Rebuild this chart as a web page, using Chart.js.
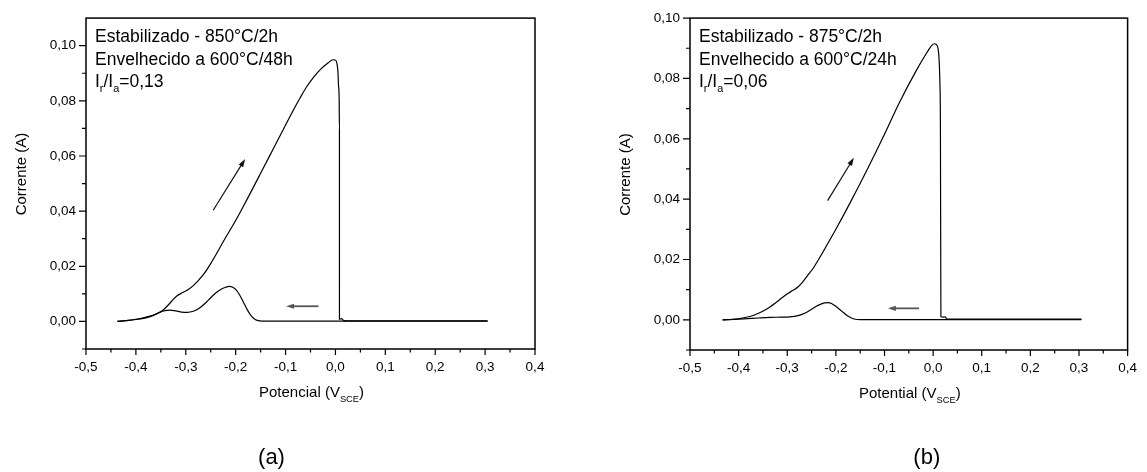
<!DOCTYPE html>
<html>
<head>
<meta charset="utf-8">
<script src="https://cdn.jsdelivr.net/npm/chart.js@4.4.1/dist/chart.umd.min.js"></script>
<style>
  html, body { margin: 0; padding: 0; background: #fff; }
  #quadro { position: relative; width: 1147px; height: 472px; }
  canvas { position: absolute; top: 0; }
  #grafA { left: 0; }
  #grafB { left: 560px; }
</style>
</head>
<body>
<div id="quadro">
  <canvas id="grafA" width="560" height="472"></canvas>
  <canvas id="grafB" width="587" height="472"></canvas>
</div>
<script>
// === EIXOS (comuns aos dois graficos) ===
const ticksPotencial = [-0.5, -0.4, -0.3, -0.2, -0.1, 0, 0.1, 0.2, 0.3, 0.4];
const ticksMenoresPotencial = [-0.45, -0.35, -0.25, -0.15, -0.05, 0.05, 0.15, 0.25, 0.35];
const ticksCorrente = [0, 0.02, 0.04, 0.06, 0.08, 0.10];
const ticksMenoresCorrente = [-0.01, 0.01, 0.03, 0.05, 0.07, 0.09];

// === (a) Estabilizado 850°C/2h, envelhecido 600°C/48h ===
// varredura de ida (anodica) [potencial V, corrente A]
const idaA = [
  [-0.437, 0.0000], [-0.42, 0.0003], [-0.40, 0.0008], [-0.385, 0.0013], [-0.372, 0.0019],
  [-0.36, 0.0027], [-0.348, 0.0038], [-0.338, 0.0054], [-0.328, 0.0074], [-0.318, 0.0092],
  [-0.307, 0.0104], [-0.295, 0.0116], [-0.285, 0.0130], [-0.275, 0.0148], [-0.263, 0.0174],
  [-0.251, 0.0207], [-0.238, 0.0247], [-0.225, 0.0289], [-0.2, 0.0366], [-0.178, 0.0440],
  [-0.15, 0.0537], [-0.124, 0.0628], [-0.104, 0.0698], [-0.085, 0.0764], [-0.071, 0.0810],
  [-0.058, 0.0850], [-0.044, 0.0885], [-0.03, 0.0914], [-0.015, 0.0937], [-0.005, 0.0949],
  [0.0, 0.0948], [0.003, 0.0935], [0.005, 0.0905], [0.006, 0.0862], [0.0075, 0.0800],
  [0.008, 0.0700], [0.008, 0.0008], [0.012, 0.0010], [0.016, 0.0004], [0.02, 0.0002],
  [0.305, 0.0002]
];
// varredura de volta (reativacao)
const voltaA = [
  [0.305, 0.0001], [-0.14, 0.0001], [-0.152, 0.0002], [-0.16, 0.0006], [-0.168, 0.0018],
  [-0.176, 0.0040], [-0.184, 0.0068], [-0.192, 0.0096], [-0.2, 0.0116], [-0.207, 0.0125],
  [-0.213, 0.0127], [-0.22, 0.0124], [-0.23, 0.0116], [-0.24, 0.0103], [-0.25, 0.0086],
  [-0.261, 0.0066], [-0.273, 0.0048], [-0.285, 0.0037], [-0.297, 0.0033], [-0.308, 0.0034],
  [-0.32, 0.0038], [-0.332, 0.0041], [-0.342, 0.0039], [-0.352, 0.0033], [-0.365, 0.0022],
  [-0.38, 0.0013], [-0.40, 0.0007], [-0.42, 0.0003], [-0.437, 0.0000]
];
// setas indicando o sentido da varredura [inicio, ponta]
const setaIdaA = [[-0.245, 0.0403], [-0.181, 0.0589]];
const setaVoltaA = [[-0.034, 0.0055], [-0.099, 0.0055]];

// === (b) Estabilizado 875°C/2h, envelhecido 600°C/24h ===
const idaB = [
  [-0.433, 0.0000], [-0.41, 0.0002], [-0.392, 0.0006], [-0.375, 0.0012], [-0.359, 0.0022],
  [-0.342, 0.0036], [-0.325, 0.0055], [-0.31, 0.0074], [-0.298, 0.0088], [-0.288, 0.0098],
  [-0.278, 0.0109], [-0.268, 0.0126], [-0.258, 0.0147], [-0.247, 0.0170], [-0.237, 0.0196],
  [-0.224, 0.0232], [-0.2, 0.0300], [-0.17, 0.0390], [-0.135, 0.0500], [-0.103, 0.0605],
  [-0.07, 0.0718], [-0.035, 0.0825], [-0.015, 0.0880], [-0.005, 0.0905], [0.002, 0.0915],
  [0.007, 0.0912], [0.010, 0.0900], [0.012, 0.0870], [0.014, 0.0780], [0.015, 0.0650],
  [0.016, 0.0010], [0.02, 0.0009], [0.024, 0.0010], [0.03, 0.0002], [0.305, 0.0002]
];
const voltaB = [
  [0.305, 0.0001], [-0.15, 0.0001], [-0.16, 0.0002], [-0.168, 0.0006], [-0.177, 0.0014],
  [-0.185, 0.0025], [-0.194, 0.0037], [-0.204, 0.0049], [-0.21, 0.0055], [-0.216, 0.0057],
  [-0.223, 0.0056], [-0.231, 0.0052], [-0.241, 0.0044], [-0.251, 0.0034], [-0.264, 0.0022],
  [-0.278, 0.0014], [-0.295, 0.0010], [-0.312, 0.0009], [-0.335, 0.0008], [-0.359, 0.0006],
  [-0.39, 0.0003], [-0.433, 0.0000]
];
const setaIdaB = [[-0.217, 0.0395], [-0.163, 0.0537]];
const setaVoltaB = [[-0.029, 0.0038], [-0.093, 0.0038]];

const FONTE = "'Liberation Sans', Arial, Helvetica, sans-serif";
Chart.defaults.font.family = FONTE;
Chart.defaults.color = '#000';

// escreve texto com subscritos: partes = [[texto, ehSub], ...]
function escreverPartes(ctx, partes, x, y, tam, centrado) {
  const tamSub = tam * 0.62;
  const larguras = partes.map(p => {
    ctx.font = `${p[1] ? tamSub : tam}px ${FONTE}`;
    return ctx.measureText(p[0]).width;
  });
  let cx = centrado ? x - larguras.reduce((a, b) => a + b, 0) / 2 : x;
  partes.forEach((p, i) => {
    ctx.font = `${p[1] ? tamSub : tam}px ${FONTE}`;
    ctx.fillText(p[0], cx, p[1] ? y + tam * 0.32 : y);
    cx += larguras[i];
  });
}

function desenharSeta(ctx, x0, y0, x1, y1, cor, espessura) {
  const ang = Math.atan2(y1 - y0, x1 - x0);
  const L = 8, W = 2.6;
  ctx.strokeStyle = cor;
  ctx.fillStyle = cor;
  ctx.lineWidth = espessura;
  ctx.beginPath();
  ctx.moveTo(x0, y0);
  ctx.lineTo(x1 - Math.cos(ang) * L * 0.8, y1 - Math.sin(ang) * L * 0.8);
  ctx.stroke();
  ctx.beginPath();
  ctx.moveTo(x1, y1);
  ctx.lineTo(x1 - Math.cos(ang) * L - Math.sin(ang) * W, y1 - Math.sin(ang) * L + Math.cos(ang) * W);
  ctx.lineTo(x1 - Math.cos(ang) * L + Math.sin(ang) * W, y1 - Math.sin(ang) * L - Math.cos(ang) * W);
  ctx.closePath();
  ctx.fill();
}

// moldura, ticks maiores/menores, titulos e anotacoes no estilo Origin
const estiloOrigin = {
  id: 'estiloOrigin',
  afterDraw(chart, args, op) {
    const { ctx, chartArea: a, scales: { x, y } } = chart;
    ctx.save();
    ctx.strokeStyle = '#000';
    ctx.lineWidth = 1.5;
    ctx.strokeRect(a.left, a.top, a.right - a.left, a.bottom - a.top);

    ctx.lineWidth = 1.2;
    ctx.beginPath();
    ticksPotencial.forEach(v => { const p = x.getPixelForValue(v); ctx.moveTo(p, a.bottom); ctx.lineTo(p, a.bottom + 6); });
    ticksMenoresPotencial.forEach(v => { const p = x.getPixelForValue(v); ctx.moveTo(p, a.bottom); ctx.lineTo(p, a.bottom + 3.5); });
    ticksCorrente.forEach(v => { const p = y.getPixelForValue(v); ctx.moveTo(a.left, p); ctx.lineTo(a.left - 7, p); });
    ticksMenoresCorrente.forEach(v => { const p = y.getPixelForValue(v); ctx.moveTo(a.left, p); ctx.lineTo(a.left - 4, p); });
    ctx.stroke();

    ctx.fillStyle = '#000';
    ctx.textAlign = 'left';
    ctx.textBaseline = 'alphabetic';

    // titulo do eixo x
    const meioX = (a.left + a.right) / 2;
    escreverPartes(ctx, [[op.tituloX + ' (V', false], ['SCE', true], [')', false]], meioX + 1, a.bottom + 48, 15, true);

    // titulo do eixo y
    ctx.save();
    ctx.translate(a.left - 65.5, (a.top + a.bottom) / 2 - 9.5);
    ctx.rotate(-Math.PI / 2);
    ctx.textAlign = 'center';
    ctx.font = `15px ${FONTE}`;
    ctx.fillText('Corrente (A)', 0, 5);
    ctx.restore();

    // anotacoes do ensaio
    const ax = a.left + 9, ay = a.top + 24;
    ctx.fillStyle = '#000';
    escreverPartes(ctx, [[op.linha1, false]], ax, ay, 17.5, false);
    escreverPartes(ctx, [[op.linha2, false]], ax, ay + 22.5, 17.5, false);
    escreverPartes(ctx, [['I', false], ['r', true], ['/I', false], ['a', true], ['=' + op.razao, false]], ax, ay + 44.5, 17.5, false);

    // rotulo (a)/(b)
    ctx.font = `22px ${FONTE}`;
    ctx.textAlign = 'center';
    ctx.textBaseline = 'middle';
    ctx.fillText(op.rotulo, meioX + op.deslocRotulo, 458);

    // setas
    const px = p => [x.getPixelForValue(p[0]), y.getPixelForValue(p[1])];
    const [i0, i1] = op.setaIda.map(px);
    desenharSeta(ctx, i0[0], i0[1], i1[0], i1[1], '#111', 1.2);
    const [v0, v1] = op.setaVolta.map(px);
    desenharSeta(ctx, v0[0], v0[1], v1[0], v1[1], '#555', 1.8);
    ctx.restore();
  }
};

function serie(pontos) {
  return {
    data: pontos.map(([x, y]) => ({ x, y })),
    showLine: true,
    borderColor: '#000',
    borderWidth: 1.2,
    pointRadius: 0,
    cubicInterpolationMode: 'monotone'
  };
}

function criarGrafico(id, cfg) {
  return new Chart(document.getElementById(id), {
    type: 'scatter',
    data: { datasets: [serie(cfg.ida), serie(cfg.volta)] },
    options: {
      responsive: false,
      animation: false,
      layout: { padding: cfg.padding },
      plugins: {
        legend: { display: false },
        tooltip: { enabled: false },
        estiloOrigin: cfg.textos
      },
      scales: {
        x: {
          type: 'linear', min: -0.5, max: 0.4,
          afterBuildTicks: s => { s.ticks = ticksPotencial.map(v => ({ value: v })); },
          afterFit: s => { s.height = cfg.alturaX; },
          grid: { display: false, drawTicks: false },
          border: { display: false },
          ticks: { padding: 10, maxRotation: 0, autoSkip: false, font: { size: 13.5 },
                   callback: v => v.toFixed(1).replace('.', ',') }
        },
        y: {
          type: 'linear', min: -0.01, max: cfg.yMax,
          afterBuildTicks: s => { s.ticks = ticksCorrente.map(v => ({ value: v })); },
          afterFit: s => { s.width = cfg.larguraY; },
          grid: { display: false, drawTicks: false },
          border: { display: false },
          ticks: { padding: 10, autoSkip: false, font: { size: 13.5 },
                   callback: v => v.toFixed(2).replace('.', ',') }
        }
      }
    },
    plugins: [estiloOrigin]
  });
}

criarGrafico('grafA', {
  ida: idaA, volta: voltaA, yMax: 0.11,
  padding: { left: 0, top: 9, right: 25, bottom: 0 },
  larguraY: 86, alturaX: 123,
  textos: {
    tituloX: 'Potencial', linha1: 'Estabilizado - 850°C/2h', linha2: 'Envelhecido a 600°C/48h',
    razao: '0,13', rotulo: '(a)', deslocRotulo: -39,
    setaIda: setaIdaA, setaVolta: setaVoltaA
  }
});

criarGrafico('grafB', {
  ida: idaB, volta: voltaB, yMax: 0.10,
  padding: { left: 0, top: 16, right: 11, bottom: 0 },
  larguraY: 130, alturaX: 122,
  textos: {
    tituloX: 'Potential', linha1: 'Estabilizado - 875°C/2h', linha2: 'Envelhecido a 600°C/24h',
    razao: '0,06', rotulo: '(b)', deslocRotulo: 18,
    setaIda: setaIdaB, setaVolta: setaVoltaB
  }
});
</script>
</body>
</html>
